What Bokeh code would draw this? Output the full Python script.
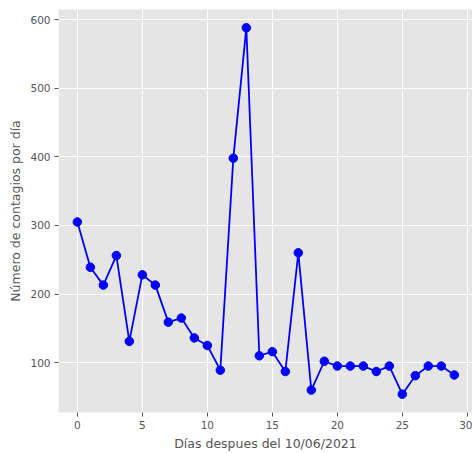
from bokeh.plotting import figure
from bokeh.models import Range1d, FixedTicker
from bokeh.embed import file_html
from bokeh.resources import INLINE

dias = list(range(30))
contagios = [305, 239, 213, 256, 131, 228, 213, 159, 165, 136,
             125, 89, 398, 588, 110, 116, 87, 260, 60, 102,
             95, 95, 95, 87, 95, 54, 81, 95, 95, 82]
x_ticks = [0, 5, 10, 15, 20, 25, 30]
y_ticks = [100, 200, 300, 400, 500, 600]
x_label = "Días despues del 10/06/2021"
y_label = "Número de contagios por día"

p = figure(width=472, height=453, output_backend="svg", toolbar_location=None,
           x_range=Range1d(-1.45, 30.4), y_range=Range1d(27.3, 614.7),
           min_border_left=58, min_border_right=0, min_border_top=9, min_border_bottom=41)

p.background_fill_color = "#E5E5E5"
p.border_fill_color = "white"
p.outline_line_color = None

for ax in (p.xaxis, p.yaxis):
    ax.axis_line_color = None
    ax.major_tick_line_color = "#555555"
    ax.major_tick_out = 4
    ax.major_tick_in = 0
    ax.minor_tick_line_color = None
    ax.major_label_text_color = "#555555"
    ax.major_label_text_font = "DejaVu Sans"
    ax.major_label_text_font_size = "10.5px"
    ax.axis_label_text_color = "#555555"
    ax.axis_label_text_font = "DejaVu Sans"
    ax.axis_label_text_font_size = "12.5px"
    ax.axis_label_text_font_style = "normal"

p.xaxis.ticker = FixedTicker(ticks=x_ticks)
p.yaxis.ticker = FixedTicker(ticks=y_ticks)
p.xaxis.axis_label = x_label
p.yaxis.axis_label = y_label
p.xaxis.major_label_standoff = 4
p.yaxis.major_label_standoff = 4
p.xaxis.axis_label_standoff = 4
p.yaxis.axis_label_standoff = 4

p.xgrid.ticker = FixedTicker(ticks=x_ticks)
p.ygrid.ticker = FixedTicker(ticks=y_ticks)
p.grid.grid_line_color = "white"
p.grid.grid_line_width = 1

p.line(dias, contagios, line_color="blue", line_width=1.8)
p.scatter(dias, contagios, size=8.5, fill_color="blue", line_color="blue")

open("out.html", "w").write(file_html(p, INLINE))
